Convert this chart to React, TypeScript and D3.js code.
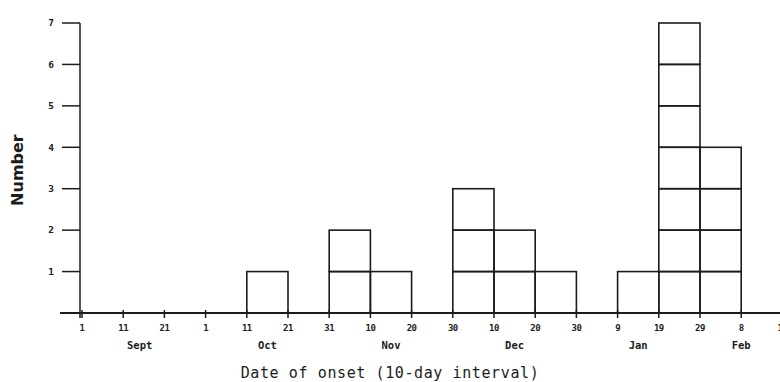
import React from 'react';
import * as d3 from 'd3';

// tick labels along the 10-day interval boundaries
const tickLabels = ['1', '11', '21', '1', '11', '21', '31', '10', '20', '30', '10', '20', '30', '9', '19', '29', '8', '18'];
// cases per 10-day interval (interval i runs from tick i to tick i+1)
const intervalCounts = [0, 0, 0, 0, 1, 0, 2, 1, 0, 3, 2, 1, 0, 1, 7, 4, 0];
const monthNames = ['Sept', 'Oct', 'Nov', 'Dec', 'Jan', 'Feb'];
const monthAt = [1.4, 4.5, 7.5, 10.5, 13.5, 16];
const yTicks = [1, 2, 3, 4, 5, 6, 7];

const W = 780;
const H = 382;
const ink = '#1c1c1c';

const App = () => {
    const x = d3.scaleLinear().domain([0, 17]).range([82, 82 + 17 * 41.2]);
    const y = d3.scaleLinear().domain([0, 7]).range([313, 23]);

    const cells = [];
    intervalCounts.forEach((c, i) => {
        for (let k = 0; k < c; k++) cells.push({ i, k });
    });

    return (
        <svg width={W} height={H} style={{ position: 'absolute', left: 0, top: 0, background: '#fff' }}>
            {/* y axis */}
            <line x1={x(0) - 2} x2={x(0) - 2} y1={y(7)} y2={y(0) + 5} stroke={ink} strokeWidth={1.5} />
            {yTicks.map(t => (
                <g key={t}>
                    <line x1={62} x2={x(0) - 2} y1={y(t)} y2={y(t)} stroke={ink} strokeWidth={1.5} />
                    <text x={51} y={y(t)} dy="0.35em" textAnchor="middle" fontFamily="DejaVu Sans Mono" fontWeight="bold" fontSize={9.5} fill={ink}>{t}</text>
                </g>
            ))}
            <text transform={`translate(23,${y(3.45)}) rotate(-90)`} textAnchor="middle" fontFamily="DejaVu Sans" fontWeight="bold" fontSize={16} fill={ink}>Number</text>

            {/* bars drawn as stacked unit cells */}
            {cells.map(({ i, k }) => (
                <rect key={`${i}-${k}`} x={x(i)} y={y(k + 1)} width={x(i + 1) - x(i)} height={y(k) - y(k + 1)}
                    fill="none" stroke={ink} strokeWidth={1.6} />
            ))}

            {/* x axis */}
            <line x1={60} x2={W} y1={y(0)} y2={y(0)} stroke={ink} strokeWidth={1.8} />
            {tickLabels.map((t, i) => (
                <g key={i}>
                    <line x1={x(i)} x2={x(i)} y1={y(0) - 3} y2={y(0) + 5} stroke={ink} strokeWidth={1.5} />
                    <text x={x(i)} y={331} textAnchor="middle" fontFamily="DejaVu Sans Mono" fontWeight="bold" fontSize={9} letterSpacing={-0.5} fill={ink}>{t}</text>
                </g>
            ))}
            {monthNames.map((m, i) => (
                <text key={m} x={x(monthAt[i])} y={349} textAnchor="middle" fontFamily="DejaVu Sans Mono" fontWeight="bold" fontSize={10.5} fill={ink}>{m}</text>
            ))}
            <text x={390} y={378} textAnchor="middle" fontFamily="DejaVu Sans Mono" fontSize={15} letterSpacing={0.6} fill={ink}>Date of onset (10-day interval)</text>
        </svg>
    );
};

export default App;
